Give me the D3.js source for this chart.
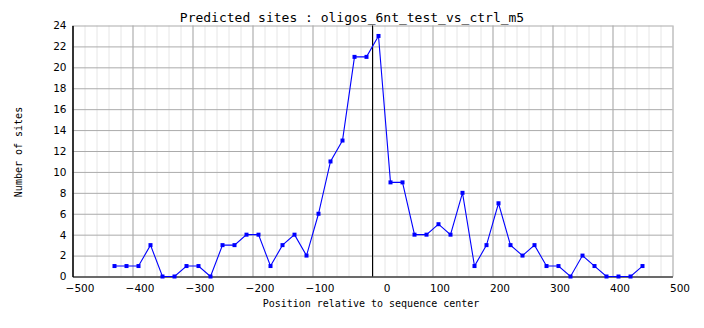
<!DOCTYPE html>
<html><head><meta charset="utf-8">
<script src="https://cdn.jsdelivr.net/npm/d3@7"></script>
<style>
html,body{margin:0;padding:0;background:#fff;}
svg{display:block;}
</style></head>
<body>
<script>
// ---- data ----
const positions = [-430,-410,-390,-370,-350,-330,-310,-290,-270,-250,-230,-210,-190,
  -170,-150,-130,-110,-90,-70,-50,-30,-10,
  10,30,50,70,90,110,
  130,150,170,190,210,230,250,270,290,310,330,350,370,390,410,430,450];
const sites = [1,1,1,3,0,0,1,1,0,3,3,4,4,
  1,3,4,2,6,11,13,21,21,
  23,9,9,4,4,5,
  4,8,1,3,7,3,2,3,1,1,0,2,1,0,0,0,1];
const xTicks = [-500,-400,-300,-200,-100,0,100,200,300,400,500];
const yTicks = [0,2,4,6,8,10,12,14,16,18,20,22,24];
const title = "Predicted sites : oligos_6nt_test_vs_ctrl_m5";
const xTitle = "Position relative to sequence center";
const yTitle = "Number of sites";

const W = 704, H = 328;
const L = 72.5, R = 672.5, T = 25.5, B = 276.5;

const svg = d3.select("body").append("svg").attr("width", W).attr("height", H);
const x = d3.scaleLinear().domain([-500, 500]).range([L, R]);
const y = d3.scaleLinear().domain([0, 24]).range([B, T]);

// minor vertical grid
svg.append("g").attr("transform", `translate(0,${B})`)
  .call(d3.axisBottom(x).tickValues(d3.range(-500, 501, 20)).tickSize(-(B - T)).tickFormat(""))
  .call(g => g.select(".domain").remove())
  .call(g => g.selectAll("line").attr("stroke", "#e6e6e6"));

// major vertical grid
svg.append("g").attr("transform", `translate(0,${B})`)
  .call(d3.axisBottom(x).tickValues(xTicks).tickSize(-(B - T)).tickFormat(""))
  .call(g => g.select(".domain").remove())
  .call(g => g.selectAll("line").attr("stroke", "#ababab"));

// horizontal grid
svg.append("g").attr("transform", `translate(${L},0)`)
  .call(d3.axisLeft(y).tickValues(yTicks).tickSize(-(R - L)).tickFormat(""))
  .call(g => g.select(".domain").remove())
  .call(g => g.selectAll("line").attr("stroke", "#ababab"));

// vertical line at 0
svg.append("line").attr("x1", x(0)).attr("x2", x(0)).attr("y1", T).attr("y2", B)
  .attr("stroke", "#000");

// axes
const xAxis = svg.append("g").attr("transform", `translate(0,${B})`)
  .call(d3.axisBottom(x).tickValues(xTicks).tickSize(0).tickPadding(8))
  .call(g => g.select(".domain").attr("stroke", "#000"));
xAxis.selectAll("text")
  .attr("font-family", "DejaVu Sans").attr("font-size", 10.5).attr("fill", "#000")
  .attr("dx", d => d === 0 ? 14 : 7);

const yAxis = svg.append("g").attr("transform", `translate(${L},0)`)
  .call(d3.axisLeft(y).tickValues(yTicks).tickSize(0).tickPadding(6))
  .call(g => g.select(".domain").attr("stroke", "#000").attr("stroke-width", 1.5));
yAxis.selectAll("text")
  .attr("font-family", "DejaVu Sans").attr("font-size", 10.5).attr("fill", "#000");

// line
const pts = positions.map((p, i) => [p, sites[i]]);
svg.append("path").datum(pts)
  .attr("fill", "none").attr("stroke", "#0000ff").attr("stroke-width", 1.1)
  .attr("d", d3.line().x(d => x(d[0])).y(d => y(d[1])));
svg.append("g").selectAll("rect").data(pts).join("rect")
  .attr("x", d => x(d[0]) - 2).attr("y", d => y(d[1]) - 2)
  .attr("width", 4).attr("height", 4).attr("fill", "#0000ff");

// titles
svg.append("text").attr("x", 352).attr("y", 22).attr("text-anchor", "middle")
  .attr("font-family", "DejaVu Sans Mono").attr("font-size", 13).text(title);
svg.append("text").attr("x", 371).attr("y", 307).attr("text-anchor", "middle")
  .attr("font-family", "DejaVu Sans Mono").attr("font-size", 10).text(xTitle);
svg.append("text").attr("transform", "translate(22,152) rotate(-90)").attr("text-anchor", "middle")
  .attr("font-family", "DejaVu Sans Mono").attr("font-size", 10).text(yTitle);
</script>
</body></html>
